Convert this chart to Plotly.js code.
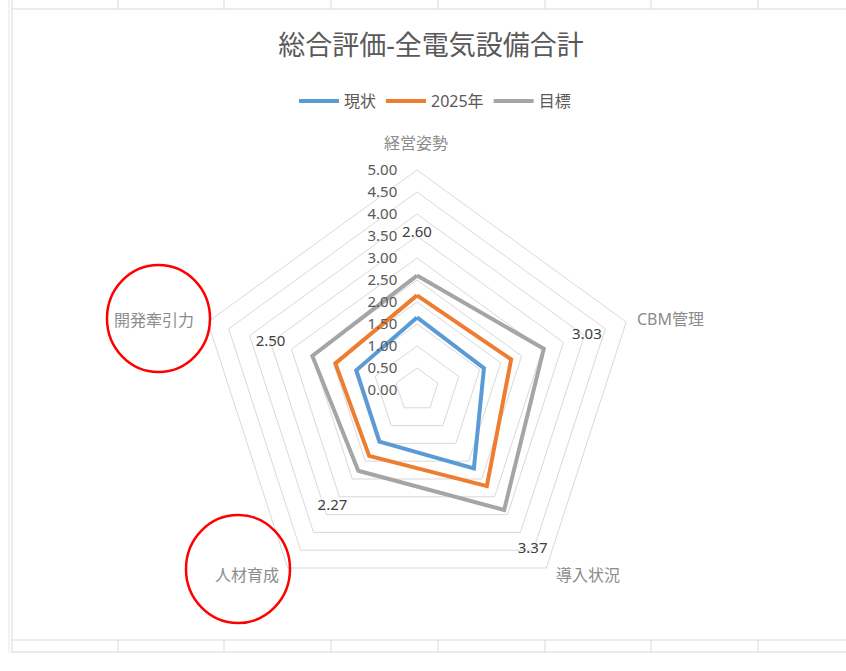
<!DOCTYPE html>
<html>
<head>
<meta charset="utf-8">
<script src="https://cdn.plot.ly/plotly-3.0.1.min.js"></script>
<style>html,body{margin:0;padding:0;background:#fff;}#chart{width:846px;height:671px;}</style>
</head>
<body>
<div id="chart"></div>
<script>
// ---- data ----
const categories = ["経営姿勢", "CBM管理", "導入状況", "人材育成", "開発牽引力"];
const seriesNames = ["現状", "2025年", "目標"];
const current = [1.65, 1.60, 2.20, 1.45, 1.45];
const plan2025 = [2.15, 2.25, 2.70, 1.85, 1.95];
const target = [2.60, 3.03, 3.37, 2.27, 2.50];
const radialTicks = [0, 0.5, 1, 1.5, 2, 2.5, 3, 3.5, 4, 4.5, 5];

// ---- styles ----
const colors = ["#5B9BD5", "#ED7D31", "#A5A5A5"];
const W = 846, H = 671;
const px = x => x / W, py = y => 1 - y / H;
const cjk = '"Noto Sans", "Noto Sans CJK JP", sans-serif';
const closeLoop = a => a.concat([a[0]]);
const theta = closeLoop(categories);

const traces = [current, plan2025, target].map((vals, i) => ({
  type: "scatterpolar",
  mode: "lines",
  name: seriesNames[i],
  r: closeLoop(vals),
  theta: theta,
  line: {color: colors[i], width: 4},
  hoverinfo: "skip"
}));

// data labels for target series, pushed outward (label offset is a style)
const labelPush = [0.97, 1.03, 1.1, 1.0, 1.0];
traces.push({
  type: "scatterpolar",
  mode: "text",
  showlegend: false,
  r: target.map((v, i) => v + labelPush[i]),
  theta: categories,
  text: target.map(v => v.toFixed(2)),
  textposition: "middle center",
  textfont: {family: cjk, size: 15, color: "#404040"},
  hoverinfo: "skip"
});

// spreadsheet decoration
const shapes = [];
const line = (x0, y0, x1, y1, c, w) => shapes.push({type: "line", xref: "paper", yref: "paper",
  x0: px(x0), y0: py(y0), x1: px(x1), y1: py(y1), line: {color: c || "#d9d9d9", width: w || 1}, layer: "below"});
const cols = [118, 224, 331, 438, 545, 651, 758];
cols.forEach(c => { line(c, 0, c, 9); line(c, 640, c, 652); });
line(12, 9, 846, 9);
line(12, 640, 846, 640);
line(12, 652, 846, 652);
line(12, 0, 12, 653);
line(9, 0, 9, 653, "#e6e6e6");
// red annotation ellipses
[[107, 265, 210, 372], [186, 515, 290, 623]].forEach(b => shapes.push({
  type: "circle", xref: "paper", yref: "paper",
  x0: px(b[0]), x1: px(b[2]), y0: py(b[3]), y1: py(b[1]),
  line: {color: "#FF0000", width: 2.5}, layer: "above"
}));

// category labels placed like the spreadsheet chart does
const catPos = [[416, 143], [670, 319], [588, 575], [247, 575], [154, 320]];
const annotations = categories.map((c, i) => ({
  text: c, xref: "paper", yref: "paper", x: px(catPos[i][0]), y: py(catPos[i][1]),
  xanchor: "center", yanchor: "middle", showarrow: false,
  font: {family: cjk, size: 16, color: "#8c8c8c"}
}));

const cx = 417, cy = 390, R = 220;
const layout = {
  width: W, height: H,
  margin: {l: 0, r: 0, t: 0, b: 0},
  paper_bgcolor: "#ffffff",
  font: {family: cjk, color: "#595959"},
  title: {text: "総合評価-全電気設備合計", x: px(431), xanchor: "center", xref: "paper",
    y: py(46), yanchor: "middle", yref: "paper",
    font: {family: cjk, size: 27, color: "#595959"}},
  showlegend: true,
  legend: {orientation: "h", x: px(435), xanchor: "center", y: py(101), yanchor: "middle",
    font: {family: cjk, size: 16, color: "#595959"}, itemwidth: 40, traceorder: "normal"},
  polar: {
    domain: {x: [px(cx - R), px(cx + R)], y: [py(cy + R), py(cy - R)]},
    bgcolor: "rgba(0,0,0,0)",
    gridshape: "linear",
    radialaxis: {
      range: [0, 5], tickvals: radialTicks, tickformat: ".2f",
      angle: 90, tickangle: 90, side: "counterclockwise",
      showline: false, showgrid: true, gridcolor: "#d9d9d9", gridwidth: 1,
      ticks: "outside", ticklen: 14, tickcolor: "rgba(0,0,0,0)",
      tickfont: {family: cjk, size: 15, color: "#595959"}
    },
    angularaxis: {
      direction: "clockwise", rotation: 90,
      showgrid: false, showline: true, linecolor: "#d9d9d9", linewidth: 1,
      showticklabels: false, ticks: ""
    }
  },
  annotations: annotations,
  shapes: shapes
};

Plotly.newPlot("chart", traces, layout, {displayModeBar: false, staticPlot: true});
</script>
</body>
</html>
